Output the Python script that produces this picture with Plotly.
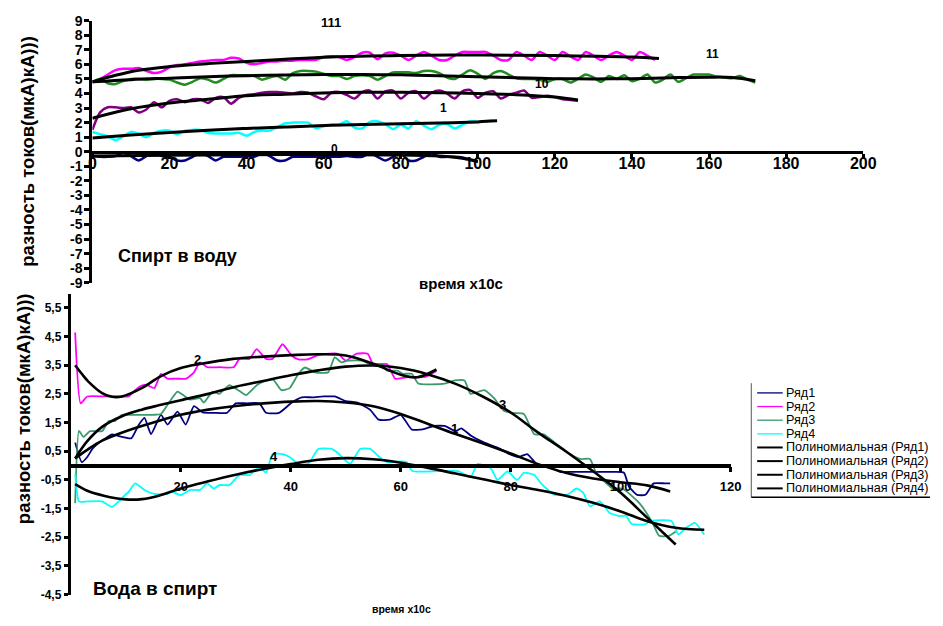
import plotly.graph_objects as go

W, H = 943, 626
FONT = "Liberation Sans"

# ---------------- upper panel: "Спирт в воду" (time step 2 x10 s) ----------------
top_111 = [4.75, 5.0, 5.3, 5.6, 5.7, 5.7, 5.75, 5.55, 5.4, 5.5,
           5.8, 5.95, 6.0, 6.1, 6.2, 6.25, 6.3, 6.3, 6.45, 6.4,
           6.1, 6.0, 6.1, 6.2, 6.2, 6.25, 6.25, 6.3, 6.3, 6.3,
           6.5, 6.55, 6.5, 6.3, 6.5, 6.8, 6.8, 6.35, 6.75, 6.8,
           6.6, 6.3, 6.6, 6.85, 6.6, 6.3, 6.3, 6.6, 6.85, 6.85,
           6.85, 6.85, 6.6, 6.3, 6.3, 6.85, 6.6, 6.3, 6.85, 6.6,
           6.3, 6.85, 6.55, 6.3, 6.85, 6.6, 6.3, 6.6, 6.85, 6.6,
           6.3, 6.85, 6.6, 6.3]
top_11 = [4.8, 5.0, 4.7, 4.65, 4.85, 5.0, 5.0, 4.95, 5.0, 5.0,
          4.95, 4.75, 4.6, 4.8, 5.05, 4.95, 4.75, 5.0, 5.25, 5.25,
          5.25, 5.2, 4.95, 5.1, 5.2, 4.95, 5.4, 5.55, 5.55, 5.5,
          5.35, 5.2, 5.2, 5.0, 5.2, 5.25, 5.2, 4.95, 5.2, 5.45,
          5.45, 5.45, 5.4, 5.55, 5.55, 5.4, 5.1, 5.0, 5.3, 5.6,
          5.35, 5.0, 5.4, 5.55, 5.3, 5.05, 5.0, 5.0, 4.95, 4.8,
          5.0, 5.0, 4.75, 5.0, 5.3, 5.1, 4.8, 5.2, 5.0, 5.25,
          4.85, 5.0, 5.3, 4.75, 4.95, 5.3, 4.8, 5.05, 5.3, 5.3,
          5.3, 5.15, 5.1, 5.05, 5.2, 4.95, 4.75]
top_10 = [1.5, 2.7, 3.05, 3.05, 3.0, 3.05, 2.7, 2.9, 3.4, 3.05,
          3.5, 3.6, 3.4, 3.6, 3.6, 3.35, 3.7, 3.75, 3.3, 3.7,
          3.9, 3.95, 4.05, 4.1, 4.1, 4.05, 4.0, 4.1, 4.05, 3.8,
          3.6, 4.05, 4.1, 3.9, 3.65, 4.1, 4.2, 3.65, 4.15, 4.2,
          3.65, 4.05, 4.15, 3.65, 4.05, 4.2, 4.0, 3.65, 4.15, 4.25,
          3.7, 4.05, 4.15, 3.65, 3.9, 4.05, 4.2, 3.7, 3.75, 3.85,
          3.75, 3.6, 3.55, 3.5]
top_1 = [1.35, 1.2, 1.05, 0.8, 1.05, 1.35, 1.25, 1.0, 1.3, 1.45,
         1.45, 1.2, 1.45, 1.5, 1.5, 1.3, 1.25, 1.25, 1.25, 1.3,
         1.1, 1.35, 1.45, 1.45, 1.7, 1.95, 2.0, 2.0, 2.0, 1.6,
         1.75, 1.85, 1.85, 2.1, 1.65, 1.6, 2.05, 2.1, 1.9, 1.55,
         1.85, 1.6, 2.1, 1.8, 1.55, 1.85, 1.9, 1.6, 1.85, 2.1,
         2.05, 2.1, 2.15]
top_0 = [-0.3, -0.35, -0.35, -0.3, -0.05, -0.3, -0.6, -0.3, -0.05, -0.3,
         -0.35, -0.6, -0.6, -0.35, -0.1, -0.3, -0.6, -0.35, -0.35, -0.35,
         -0.3, -0.35, -0.1, -0.3, -0.6, -0.6, -0.35, -0.35, -0.35, -0.35,
         -0.35, -0.35, -0.35, -0.3, -0.35, -0.35, -0.1, -0.35, -0.6, -0.35,
         -0.1, -0.6, -0.6, -0.35, -0.1, -0.35, -0.35, -0.35, -0.4, -0.55,
         -0.7]

# polynomial trend curves of the upper panel
trend_111_x = [0, 6, 12, 20, 30, 40, 50, 62, 80, 100, 120, 140, 147]
trend_111_y = [4.8, 5.25, 5.6, 5.85, 6.05, 6.2, 6.35, 6.5, 6.6, 6.65, 6.6, 6.5, 6.4]
trend_11_x = [0, 10, 20, 30, 40, 50, 60, 70, 80, 90, 100, 110, 120, 130, 140, 150, 160, 166, 172]
trend_11_y = [4.8, 4.95, 5.05, 5.15, 5.22, 5.27, 5.3, 5.3, 5.28, 5.22, 5.15, 5.08, 5.02, 5.0, 5.02,
              5.08, 5.12, 5.1, 4.88]
trend_10_x = [0, 10, 20, 30, 40, 50, 62, 70, 80, 90, 100, 110, 120, 126]
trend_10_y = [2.3, 2.95, 3.35, 3.6, 3.85, 3.95, 4.05, 4.08, 4.08, 4.05, 4.0, 3.92, 3.75, 3.55]
trend_1_x = [0, 10, 20, 30, 40, 50, 62, 80, 90, 100, 105]
trend_1_y = [0.95, 1.15, 1.32, 1.48, 1.6, 1.7, 1.82, 1.92, 1.97, 2.05, 2.12]
trend_0_x = [0, 20, 40, 60, 80, 90, 95, 100]
trend_0_y = [-0.3, -0.25, -0.2, -0.2, -0.22, -0.3, -0.42, -0.65]

top_ticks_x = [0, 20, 40, 60, 80, 100, 120, 140, 160, 180, 200]
top_ticks_y = list(range(-9, 10))

# ---------------- lower panel: "Вода в спирт" ----------------
row1_x = [0.8, 2, 3, 4, 5.7, 7.5, 9.3, 11, 12.3, 13.4, 14.6, 16.4, 17.6, 19.4, 20.9, 22.4, 24, 26,
          28.4, 30, 32, 34.3, 35.5, 37.9, 40.2, 42, 44, 46, 48, 50, 52, 54.4, 56, 58, 60, 62, 64,
          66, 68, 70, 71, 72.8, 75.2, 77.6, 80, 81.5, 83, 85, 87, 89, 91, 93, 95, 97, 99, 100.6,
          101.5, 103, 104.5, 106, 108, 109]
row1_y = [0.8, 0.12, 0.3, 0.6, 0.87, 1.09, 1.0, 0.95, 1.4, 1.66, 1.1, 1.77, 1.43, 1.88, 1.43, 2.07,
          1.85, 1.84, 1.84, 2.17, 2.17, 2.17, 1.84, 1.84, 2.2, 2.38, 2.38, 2.41, 2.41, 2.25, 2.2,
          1.95, 1.6, 1.6, 1.77, 1.26, 1.26, 1.38, 1.38, 1.2, 1.3, 1.04, 0.8, 0.63, 0.38, 0.3, 0.4,
          0.0, -0.05, -0.22, -0.22, -0.22, -0.22, -0.22, -0.22, -0.25, -0.73, -1.02, -1.02, -0.62,
          -0.62, -0.62]
row2_x = [0.8, 1.8, 3, 6, 9, 10.5, 11.7, 13, 14, 15.2, 16.4, 17.6, 19, 21, 22.4, 23.5, 24.8, 27,
          29.6, 30.7, 32.5, 33.8, 35.5, 36.7, 38.5, 40.2, 41.4, 43, 45, 47, 48.6, 50, 52, 54, 55,
          57.5, 59, 61, 63, 64.6, 66.5]
row2_y = [4.64, 2.17, 2.41, 2.41, 2.41, 2.41, 2.63, 2.8, 2.8, 2.7, 3.2, 3.03, 3.03, 3.03, 3.25,
          3.6, 3.43, 3.43, 3.43, 3.72, 3.72, 4.06, 3.72, 3.72, 4.23, 3.83, 3.7, 3.7, 3.85, 3.9,
          3.9, 3.66, 3.9, 3.9, 3.54, 3.54, 3.03, 3.08, 3.08, 3.1, 3.3]
row3_x = [0.8, 1.5, 2.3, 3.5, 5.7, 6.9, 8, 9.3, 10.5, 15, 16.4, 17.6, 19.4, 20.5, 21.7, 23.5, 24.2,
          25.8, 27, 28.8, 30.7, 31.9, 33.8, 35, 36.8, 38.3, 39.8, 41.4, 42.6, 44.4, 46.8, 48, 49.2,
          50.4, 53, 54.4, 56.5, 57.5, 59.4, 60.4, 62, 63.2, 68, 69.8, 71.6, 72.7, 75.2, 77, 78.8,
          80.7, 82.4, 84.3, 86, 88, 90.3, 92.6, 94.4, 95.6, 97.4, 98.5, 100.3, 103.4, 105.8, 107,
          108.8, 110]
row3_y = [-1.31, 1.21, 1.0, 1.2, 1.2, 1.55, 1.55, 1.77, 1.77, 1.77, 1.8, 2.12, 2.58, 2.45, 2.3,
          2.35, 2.2, 2.58, 2.5, 2.8, 2.6, 2.46, 2.8, 2.93, 3.0, 2.63, 2.7, 3.2, 3.42, 3.25, 3.25,
          3.77, 3.6, 3.66, 3.66, 3.54, 3.54, 3.31, 3.31, 3.2, 3.2, 2.86, 2.86, 2.97, 2.97, 2.5,
          2.63, 2.34, 1.9, 1.83, 1.8, 1.09, 1.09, 0.8, 0.46, 0.23, 0.23, -0.28, -0.62, -0.8, -0.8,
          -1.31, -2.0, -2.45, -2.45, -2.3]
row4_x = [0.8, 1.5, 3, 5.7, 7.5, 9.3, 10.5, 11.7, 13.4, 15.2, 17.6, 18.2, 20, 21.7, 23.5, 24.8, 26,
          27, 28.8, 30.7, 32.5, 34.3, 35.5, 36.7, 38.5, 39.8, 41.4, 43.2, 45, 47.4, 48.5, 50.8,
          52.6, 54.4, 56.2, 57.4, 61, 62.1, 70.4, 72.7, 74, 76.4, 77.6, 79.4, 81.2, 82.4, 84.3,
          85.5, 87.9, 90.3, 92, 93.2, 94.4, 96.2, 98, 99.8, 101, 102, 104.5, 105.6, 109.2, 110.5,
          111.7, 113.5, 115.2]
row4_y = [-0.28, -1.25, -1.25, -1.25, -1.44, -1.14, -0.92, -0.62, -0.85, -0.99, -0.99, -0.9,
          -1.03, -0.85, -0.85, -0.62, -0.8, -0.68, -0.68, -0.33, -0.33, -0.05, -0.24, 0.4, 0.4,
          0.3, 0.06, 0.06, 0.58, 0.58, 0.45, 0.06, 0.58, 0.58, 0.29, 0.13, 0.13, -0.19, -0.19,
          -0.4, 0.06, -0.1, -0.5, -0.2, -0.5, -0.25, -0.33, -0.62, -1.01, -1.01, -0.8, -0.95,
          -1.42, -1.25, -1.65, -1.76, -1.76, -2.04, -2.04, -1.93, -1.93, -2.4, -2.2, -2.0, -2.4]

# polynomial trend curves of the lower panel
poly1_x = [0.8, 3, 5.7, 10, 15, 20, 25, 30, 35, 40, 45, 50, 55, 60, 65, 70, 75, 80, 85, 90, 95,
           100, 105, 109]
poly1_y = [0.25, 0.55, 0.87, 1.2, 1.5, 1.77, 1.95, 2.08, 2.17, 2.23, 2.25, 2.2, 2.07, 1.8, 1.45,
           1.1, 0.77, 0.42, 0.05, -0.25, -0.45, -0.58, -0.7, -0.9]
poly2_x = [0.8, 2, 3.2, 5.7, 7.5, 9.3, 12.9, 16.4, 20, 23.5, 29.5, 35, 40, 45, 50, 55, 60, 63, 66.5]
poly2_y = [3.5, 3.2, 2.93, 2.53, 2.4, 2.41, 2.7, 3.12, 3.4, 3.54, 3.72, 3.8, 3.85, 3.88, 3.84,
           3.55, 3.17, 3.08, 3.35]
poly3_x = [0.8, 3, 5.7, 9.3, 12.9, 16, 20, 25, 30, 35, 40, 45, 50, 55, 60, 65, 70, 75, 80, 85, 90,
           95, 100, 105, 110]
poly3_y = [0.25, 0.85, 1.35, 1.72, 1.95, 2.1, 2.28, 2.5, 2.75, 2.95, 3.15, 3.32, 3.45, 3.49, 3.4,
           3.18, 2.85, 2.4, 1.85, 1.15, 0.5, -0.2, -0.95, -1.85, -2.75]
poly4_x = [0.8, 3, 6, 10, 13, 16, 20, 25, 30, 35, 40, 45, 50, 55, 60, 65, 70, 75, 80, 85, 90, 95,
           100, 105, 110, 115.2]
poly4_y = [-0.65, -0.88, -1.05, -1.18, -1.17, -1.05, -0.8, -0.55, -0.32, -0.12, 0.05, 0.2, 0.26,
           0.22, 0.1, -0.08, -0.28, -0.48, -0.68, -0.85, -1.05, -1.3, -1.6, -1.95, -2.17, -2.24]

low_ticks_x = [20, 40, 60, 80, 100, 120]
low_ticks_y = [-4.5, -3.5, -2.5, -1.5, -0.5, 0.5, 1.5, 2.5, 3.5, 4.5, 5.5]

legend_names = ["Ряд1", "Ряд2", "Ряд3", "Ряд4",
                "Полиномиальная (Ряд1)", "Полиномиальная (Ряд2)",
                "Полиномиальная (Ряд3)", "Полиномиальная (Ряд4)"]

NAVY, MAGENTA, CYAN = "#000080", "#FF00FF", "#00FFFF"
TOP_GREEN, PURPLE, LOW_GREEN = "#228B22", "#800080", "#3A9A6A"


def px(x):
    return x / W


def py(y):
    return 1 - y / H


top_dom_x = [px(90), px(875)]
top_dom_y = [py(282), py(13)]
top_zero = top_dom_y[0] + 9 / 18 * (top_dom_y[1] - top_dom_y[0])
low_dom_x = [px(68), px(740)]
low_dom_y = [py(602), py(293)]
low_zero = low_dom_y[0] + 4.5 / 10.5 * (low_dom_y[1] - low_dom_y[0])

fig = go.Figure()


def line(x, y, color, width, xa, ya, smooth=0.7):
    fig.add_trace(go.Scatter(x=x, y=y, mode="lines", xaxis=xa, yaxis=ya, showlegend=False,
                             hoverinfo="skip",
                             line=dict(color=color, width=width, shape="spline",
                                       smoothing=smooth)))


def steps(values):
    return list(range(0, 2 * len(values), 2))


# upper panel: measured series then trends
for vals, col in [(top_111, MAGENTA), (top_11, TOP_GREEN), (top_10, PURPLE),
                  (top_1, CYAN), (top_0, NAVY)]:
    line(steps(vals), vals, col, 2.5, "x", "y")
for tx, ty in [(trend_111_x, trend_111_y), (trend_11_x, trend_11_y), (trend_10_x, trend_10_y),
               (trend_1_x, trend_1_y), (trend_0_x, trend_0_y)]:
    line(tx, ty, "black", 3, "x", "y", 1.0)

# lower panel
for xs, ys, col in [(row1_x, row1_y, NAVY), (row2_x, row2_y, MAGENTA),
                    (row3_x, row3_y, LOW_GREEN), (row4_x, row4_y, CYAN)]:
    line(xs, ys, col, 1.8, "x2", "y2", 0.5)
for xs, ys in [(poly1_x, poly1_y), (poly2_x, poly2_y), (poly3_x, poly3_y), (poly4_x, poly4_y)]:
    line(xs, ys, "black", 2.6, "x2", "y2", 1.0)

bold = dict(family=FONT, color="black", weight="bold")

fig.update_layout(
    width=W, height=H, margin=dict(l=0, r=0, t=0, b=0),
    paper_bgcolor="white", plot_bgcolor="white", showlegend=False,
    xaxis=dict(domain=top_dom_x, range=[0, 200], anchor="free", position=top_zero,
               showline=True, linewidth=3, linecolor="black", ticks="outside", ticklen=5,
               tickwidth=3, tickcolor="black", tickvals=top_ticks_x,
               ticktext=[str(v) for v in top_ticks_x], tickfont=dict(size=16, **bold),
               ticklabelstandoff=-9, showgrid=False, zeroline=False),
    yaxis=dict(domain=top_dom_y, range=[-9, 9], anchor="x", showline=True, linewidth=3,
               linecolor="black", ticks="outside", ticklen=5, tickwidth=3, tickcolor="black",
               tickvals=top_ticks_y, ticktext=[str(v) for v in top_ticks_y],
               tickfont=dict(size=14, **bold), ticklabelstandoff=-1,
               showgrid=False, zeroline=False),
    xaxis2=dict(domain=low_dom_x, range=[0, 120], anchor="free", position=low_zero,
                showline=True, linewidth=3.5, linecolor="black", ticks="outside", ticklen=5,
                tickwidth=3, tickcolor="black", tickvals=low_ticks_x,
                ticktext=[str(v) for v in low_ticks_x], tickfont=dict(size=13, **bold),
                ticklabelstandoff=3, showgrid=False, zeroline=False),
    yaxis2=dict(domain=low_dom_y, range=[-4.5, 6], anchor="x2", showline=True, linewidth=3,
                linecolor="black", ticks="outside", ticklen=4, tickwidth=3, tickcolor="black",
                tickvals=low_ticks_y,
                ticktext=[("%.1f" % v).replace(".", ",") for v in low_ticks_y],
                tickfont=dict(size=12, **bold), showgrid=False, zeroline=False),
)

ann = []


def text(x, y, s, size, xref="paper", yref="paper", angle=0, weight="bold", xanchor="center"):
    ann.append(dict(x=x, y=y, xref=xref, yref=yref, text=s, showarrow=False, textangle=angle,
                    xanchor=xanchor, yanchor="middle",
                    font=dict(family=FONT, size=size, color="black", weight=weight)))


# axis titles and panel captions
text(px(24), py(147), "разность токов(мкА)кА)))", 18.5, angle=-90)
text(px(20), py(411), "разность токов(мкА)кА)))", 18.5, angle=-90)
text(px(177), py(255), "Спирт в воду", 18)
text(px(465), py(283), "время x10с", 15)
text(px(154), py(596), "Вода в спирт", 19)
text(px(405), py(617), "время x10с", 10.5)

# curve labels
for lx, ly, s, size in [(62, 8.9, "111", 13), (161, 6.7, "11", 12), (116.7, 4.66, "10", 12),
                        (91.2, 3.0, "1", 12), (62.7, 0.17, "0", 12)]:
    text(lx, ly, s, size, xref="x", yref="y")
for lx, ly, s in [(23, 3.69, "2"), (78.6, 2.13, "3"), (69.8, 1.28, "1"), (37, 0.33, "4")]:
    text(lx, ly, s, 13, xref="x2", yref="y2")

# legend box drawn by hand
shapes = [
    dict(type="line", xref="paper", yref="paper", x0=px(761), x1=px(761), y0=py(385),
         y1=py(502), line=dict(color="#555555", width=1)),
    dict(type="line", xref="paper", yref="paper", x0=px(761), x1=px(943), y0=py(502),
         y1=py(502), line=dict(color="black", width=1.5)),
]
legend_colors = [NAVY, MAGENTA, LOW_GREEN, CYAN, "black", "black", "black", "black"]
for i, (name, col) in enumerate(zip(legend_names, legend_colors)):
    yy = 395 + 14 * i
    shapes.append(dict(type="line", xref="paper", yref="paper", x0=px(767), x1=px(793),
                       y0=py(yy), y1=py(yy),
                       line=dict(color=col, width=1.3 if i < 4 else 2)))
    text(px(794), py(yy), name, 12.6, weight="normal", xanchor="left")

fig.update_layout(annotations=ann, shapes=shapes)
fig.write_html("out.html")
